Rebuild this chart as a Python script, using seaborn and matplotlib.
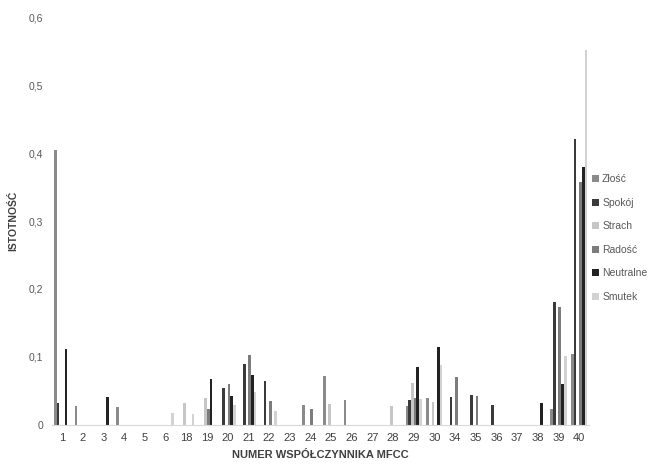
import matplotlib
matplotlib.use("Agg")
import matplotlib.pyplot as plt
import seaborn as sns
import pandas as pd
from matplotlib.patches import Patch

categories = ['1', '2', '3', '4', '5', '6', '18', '19', '20', '21', '22', '23', '24',
              '25', '26', '27', '28', '29', '30', '34', '35', '36', '37', '38', '39', '40']
series = ['Złość', 'Spokój', 'Strach', 'Radość', 'Neutralne', 'Smutek']

zlosc     = [0.405, 0.028, 0, 0.027, 0, 0, 0, 0, 0, 0, 0, 0, 0.030,
             0.0725, 0.037, 0, 0, 0.028, 0.039, 0, 0, 0, 0, 0, 0.024, 0.105]
spokoj    = [0.033, 0, 0, 0, 0, 0, 0, 0, 0.055, 0.089, 0.064, 0, 0,
             0, 0, 0, 0, 0.037, 0, 0.041, 0.044, 0.029, 0, 0, 0.181, 0.421]
strach    = [0, 0, 0, 0, 0, 0, 0.032, 0.039, 0, 0, 0, 0, 0,
             0.031, 0, 0, 0.028, 0.062, 0.034, 0, 0, 0, 0, 0, 0, 0]
radosc    = [0, 0, 0, 0, 0, 0, 0, 0.023, 0.060, 0.103, 0.035, 0, 0.024,
             0, 0, 0, 0, 0.040, 0, 0.070, 0.043, 0, 0, 0, 0.173, 0.357]
neutralne = [0.112, 0, 0.041, 0, 0, 0, 0, 0.067, 0.042, 0.073, 0, 0, 0,
             0, 0, 0, 0, 0.085, 0.114, 0, 0, 0, 0, 0.033, 0.060, 0.380]
smutek    = [0, 0, 0, 0, 0, 0.017, 0.016, 0, 0.030, 0.049, 0.021, 0, 0,
             0, 0, 0, 0, 0.038, 0.088, 0, 0, 0, 0, 0, 0.101, 0.551]

colors = ['#8a8a8a', '#3a3a3a', '#c6c6c6', '#7c7c7c', '#222222', '#d2d2d2']

values = [zlosc, spokoj, strach, radosc, neutralne, smutek]
rows = []
for s, vals in zip(series, values):
    for c, v in zip(categories, vals):
        rows.append({'cat': c, 'series': s, 'val': v})
df = pd.DataFrame(rows)

sns.set_style("white")
plt.rcParams['font.family'] = ['Liberation Sans', 'DejaVu Sans']

fig = plt.figure(figsize=(6.55, 4.66), dpi=100)
ax = fig.add_axes([0.079, 0.088, 0.821, 0.8755])

sns.barplot(data=df, x='cat', y='val', hue='series', order=categories,
            hue_order=series, palette=colors, width=0.78, ax=ax,
            errorbar=None, legend=False, linewidth=0)

ax.set_xlim(-0.5, 25.5)
ax.set_ylim(0, 0.6)
ax.set_yticks([0, 0.1, 0.2, 0.3, 0.4, 0.5, 0.6])
ax.set_yticklabels(['0', '0,1', '0,2', '0,3', '0,4', '0,5', '0,6'],
                   fontsize=7.5, color='#595959')
ax.set_xticks(range(len(categories)))
ax.set_xticklabels(categories, fontsize=8, color='#404040')
ax.tick_params(axis='both', length=0, pad=6)
for sp in ['top', 'right', 'left']:
    ax.spines[sp].set_visible(False)
ax.spines['bottom'].set_color('#d9d9d9')
ax.spines['bottom'].set_linewidth(0.8)

ax.set_xlabel('NUMER WSPÓŁCZYNNIKA MFCC', fontsize=8, fontweight='bold',
              color='#404040', labelpad=5)
ax.set_ylabel('ISTOTNOŚĆ', fontsize=7.5, fontweight='bold', color='#404040',
              labelpad=8)

handles = [Patch(facecolor=c, edgecolor='none', label=s) for s, c in zip(series, colors)]
leg = fig.legend(handles=handles, loc='center left', bbox_to_anchor=(0.897, 0.489),
                 frameon=False, fontsize=7.5, handlelength=0.7, handleheight=0.7,
                 handletextpad=0.3, labelspacing=1.3, borderaxespad=0)
for t in leg.get_texts():
    t.set_color('#595959')

fig.savefig('out.png', dpi=100)
